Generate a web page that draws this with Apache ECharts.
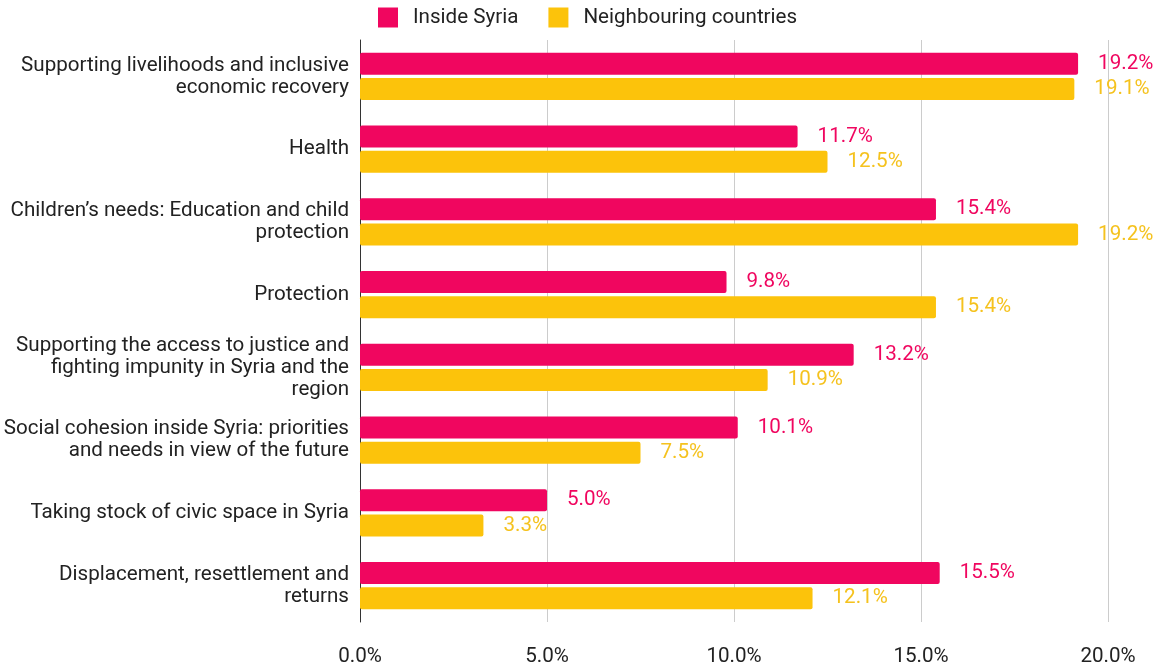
<!DOCTYPE html>
<html>
<head>
<meta charset="utf-8">
<script src="https://cdn.jsdelivr.net/npm/echarts@6/dist/echarts.min.js"></script>
<style>
  html, body { margin: 0; padding: 0; background: #fff; }
  #chart { width: 1155px; height: 669px; }
</style>
</head>
<body>
<div id="chart"></div>
<script>
// Survey topics, listed top to bottom
const categories = [
  'Supporting livelihoods and inclusive\neconomic recovery',
  'Health',
  'Children’s needs: Education and child\nprotection',
  'Protection',
  'Supporting the access to justice and\nfighting impunity in Syria and the\nregion',
  'Social cohesion inside Syria: priorities\nand needs in view of the future',
  'Taking stock of civic space in Syria',
  'Displacement, resettlement and\nreturns'
];
const insideSyria = [19.2, 11.7, 15.4, 9.8, 13.2, 10.1, 5.0, 15.5];
const neighbouringCountries = [19.1, 12.5, 19.2, 15.4, 10.9, 7.5, 3.3, 12.1];
const xTicks = [0, 5, 10, 15, 20];

const PINK = '#F0065F';
const YELLOW = '#FCC30B';
const FONT = 'Roboto';
const FONT_SIZE = 20.6;

const chart = echarts.init(document.getElementById('chart'));

function barSeries(name, values, color, labelColor) {
  return {
    name: name,
    type: 'bar',
    data: values,
    barWidth: 22,
    barGap: '14%',
    itemStyle: { color: color, borderRadius: 2 },
    label: {
      show: true,
      position: 'right',
      distance: 20,
      color: labelColor,
      fontFamily: FONT,
      fontSize: FONT_SIZE,
      formatter: p => p.value.toFixed(1) + '%'
    }
  };
}

chart.setOption({
  animation: false,
  textStyle: { fontFamily: FONT },
  legend: {
    top: 2,
    left: 373,
    itemWidth: 20,
    itemHeight: 20,
    itemGap: 30,
    icon: 'rect',
    itemStyle: { borderRadius: 2 },
    textStyle: { fontFamily: FONT, fontSize: FONT_SIZE, color: '#222', padding: [0, 0, 0, 10] },
    data: ['Inside Syria', 'Neighbouring countries']
  },
  grid: { left: 360, right: 47, top: 40, bottom: 47, containLabel: false },
  xAxis: {
    type: 'value',
    min: xTicks[0],
    max: xTicks[xTicks.length - 1],
    interval: 5,
    axisLine: { show: false },
    axisTick: { show: false },
    splitLine: {
      show: true,
      lineStyle: { color: '#CCCCCC', width: 1 },
      showMinLine: false
    },
    axisLabel: {
      margin: 24,
      fontFamily: FONT,
      fontSize: FONT_SIZE,
      color: '#222',
      formatter: v => v.toFixed(1) + '%'
    }
  },
  yAxis: {
    type: 'category',
    data: categories,
    inverse: true,
    axisLine: { show: true, lineStyle: { color: '#333', width: 1 } },
    axisTick: { show: false },
    axisLabel: {
      margin: 11,
      fontFamily: FONT,
      fontSize: FONT_SIZE,
      lineHeight: 22,
      padding: [3, 0, 0, 0],
      color: '#222',
      align: 'right'
    }
  },
  series: [
    barSeries('Inside Syria', insideSyria, PINK, PINK),
    barSeries('Neighbouring countries', neighbouringCountries, YELLOW, '#F5C21E')
  ]
});
</script>
</body>
</html>
